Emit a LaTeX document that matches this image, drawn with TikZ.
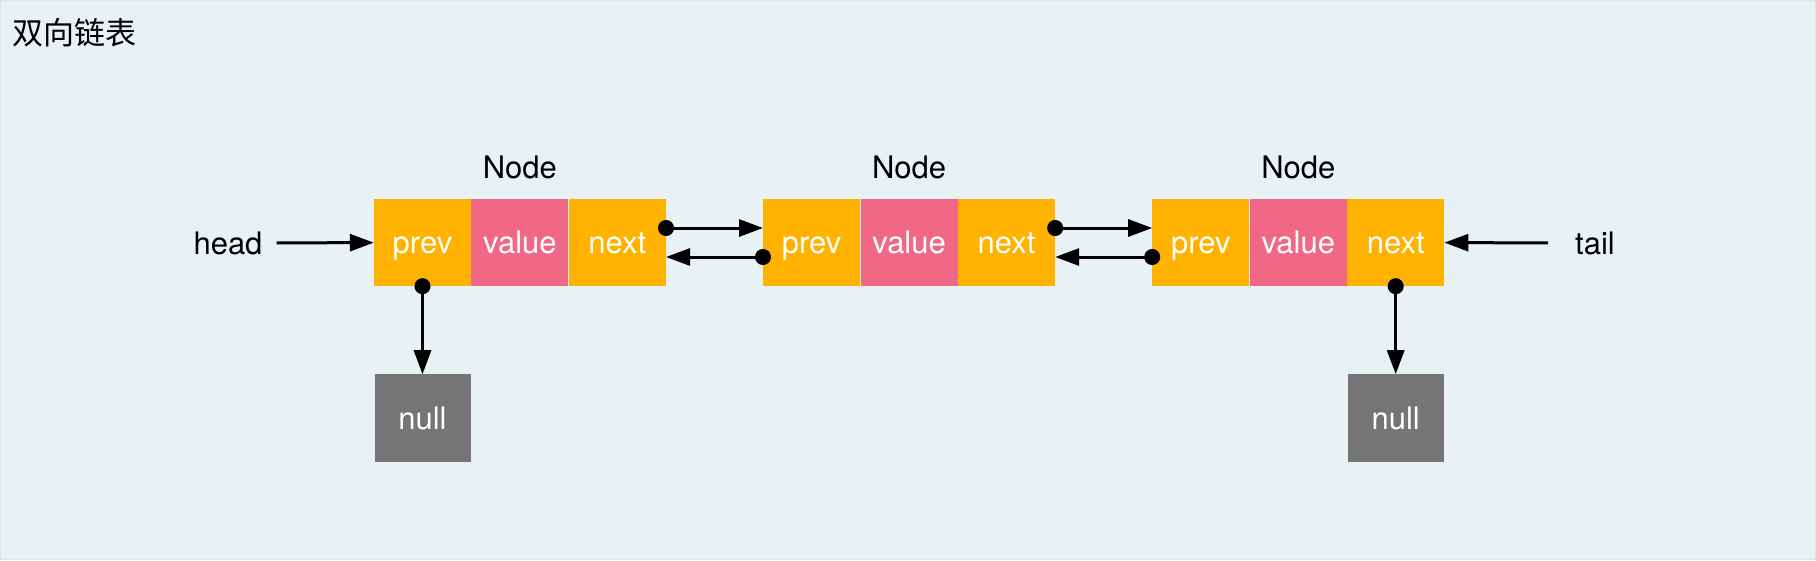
\documentclass[tikz,border=0pt]{standalone}
\usepackage{fontspec}
\setmainfont{TeX Gyre Heros}
\newfontfamily\cjkfont{Noto Sans CJK SC}
\usetikzlibrary{arrows.meta}
\usetikzlibrary{positioning}
\definecolor{bgblue}{HTML}{E8F1F4}
\definecolor{bgedge}{HTML}{DCE7EB}
\definecolor{ptrorange}{HTML}{FFB300}
\definecolor{valpink}{HTML}{F06886}
\definecolor{nullgray}{HTML}{757575}

\begin{document}
\begin{tikzpicture}[x=1pt,y=-1pt]
\tikzset{cell/.style={minimum width=97pt,minimum height=87pt,inner sep=0pt,
        text height=22pt,text depth=0pt,
        text=white,font=\fontsize{31}{36}\selectfont}}
\tikzset{ptrcell/.style={cell,fill=ptrorange}}
\tikzset{valcell/.style={cell,fill=valpink}}
\tikzset{nullcell/.style={cell,fill=nullgray,minimum width=96pt,minimum height=88pt}}
\tikzset{lbl/.style={font=\fontsize{31}{36}\selectfont}}
\tikzset{ptr/.style={line width=3pt,-{Triangle[length=24pt,width=17pt]}}}
\tikzset{dptr/.style={ptr,{Circle[length=16pt]}-{Triangle[length=24pt,width=17pt]},shorten <=-8pt}}

\useasboundingbox (0,0) rectangle (1816,560);
\filldraw[fill=bgblue,draw=bgedge,line width=1pt] (0.5,0.5) rectangle (1815.5,559.5);

\node[font=\cjkfont\fontsize{31}{36}\selectfont,anchor=west] (title) at (9,33) {双向链表};

% first node
\node[ptrcell] (n1prev) at (422.5,242.5) {prev};
\node[valcell,right=0pt of n1prev] (n1val) {value};
\node[ptrcell,right=0pt of n1val] (n1next) {next};
% second node
\node[ptrcell,right=97pt of n1next] (n2prev) {prev};
\node[valcell,right=0pt of n2prev] (n2val) {value};
\node[ptrcell,right=0pt of n2val] (n2next) {next};
% third node
\node[ptrcell,right=97pt of n2next] (n3prev) {prev};
\node[valcell,right=0pt of n3prev] (n3val) {value};
\node[ptrcell,right=0pt of n3val] (n3next) {next};

\node[lbl] (n1lbl) at ([yshift=75.5pt]n1val) {Node};
\node[lbl] (n2lbl) at ([yshift=75.5pt]n2val) {Node};
\node[lbl] (n3lbl) at ([yshift=75.5pt]n3val) {Node};

\node[nullcell,below=88pt of n1prev] (null1) {null};
\node[nullcell,below=88pt of n3next] (null2) {null};

\node[lbl,inner xsep=14pt] (head) at (228,243) {head};
\node[lbl,inner xsep=27pt] (tail) at (1595,243) {tail};

\draw[ptr] (head) -- (n1prev);
\draw[ptr] (tail) -- (n3next);

\draw[dptr] ([yshift=14.5pt]n1next.east) -- ([yshift=14.5pt]n2prev.west);
\draw[dptr] ([yshift=-14.5pt]n2prev.west) -- ([yshift=-14.5pt]n1next.east);
\draw[dptr] ([yshift=14.5pt]n2next.east) -- ([yshift=14.5pt]n3prev.west);
\draw[dptr] ([yshift=-14.5pt]n3prev.west) -- ([yshift=-14.5pt]n2next.east);

\draw[dptr] (n1prev.south) -- (null1);
\draw[dptr] (n3next.south) -- (null2);
\end{tikzpicture}
\end{document}
